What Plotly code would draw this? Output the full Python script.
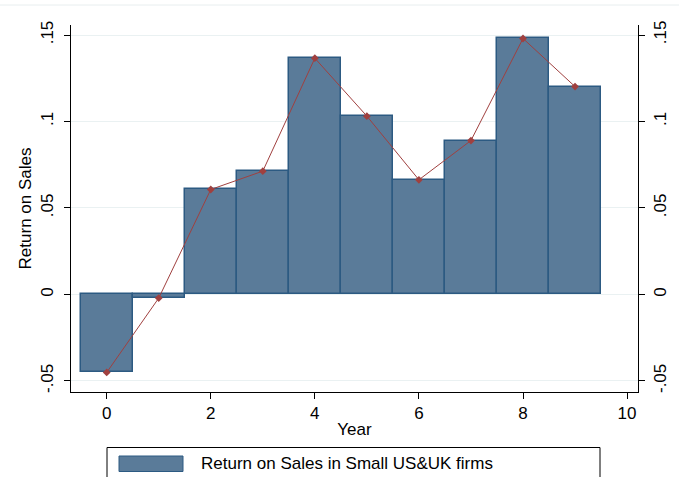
import plotly.graph_objects as go

years = [0, 1, 2, 3, 4, 5, 6, 7, 8, 9]
ros = [-0.0451, -0.0021, 0.0607, 0.0713, 0.1366, 0.1031, 0.0663, 0.0890, 0.1480, 0.1202]
y_ticks = [-0.05, 0, 0.05, 0.1, 0.15]
y_ticklabels = ["-.05", "0", ".05", ".1", ".15"]
x_ticks = [0, 2, 4, 6, 8, 10]
legend_label = "Return on Sales in Small US&UK firms"

FONT = "Liberation Sans, Arial, sans-serif"
BAR_FILL = "#5a7b99"
BAR_LINE = "#2c5a82"
LINE_COL = "#a0403f"
GRID = "#eaf1f2"
yr = [-0.0564, 0.1558]
xr = [-0.686, 10.21]
FS = 17

fig = go.Figure()
fig.add_trace(go.Bar(
    x=years, y=ros, width=1,
    marker=dict(color=BAR_FILL, line=dict(color=BAR_LINE, width=1.5)),
    name=legend_label, showlegend=False,
))
fig.add_trace(go.Scatter(
    x=years, y=ros, mode="lines+markers",
    line=dict(color=LINE_COL, width=1),
    marker=dict(symbol="diamond", size=6, color=LINE_COL),
    showlegend=False,
))
fig.add_trace(go.Scatter(x=[years[0]], y=[ros[0]], yaxis="y2", mode="markers",
                         marker=dict(opacity=0), showlegend=False, hoverinfo="skip"))

fig.update_layout(
    width=679, height=477,
    margin=dict(l=71, r=41, t=25, b=85, autoexpand=False),
    paper_bgcolor="white", plot_bgcolor="white",
    bargap=0,
    font=dict(family=FONT, size=FS, color="black"),
    xaxis=dict(
        range=xr, tickvals=x_ticks, showgrid=False, zeroline=False, automargin=False,
        showline=True, linecolor="black", linewidth=1,
        ticks="outside", ticklen=6, tickcolor="black",
        title=dict(text="Year", font=dict(size=FS), standoff=0),
    ),
    yaxis=dict(
        range=yr, tickvals=y_ticks, ticktext=y_ticklabels, tickangle=-90, automargin=False,
        showgrid=True, gridcolor=GRID, gridwidth=1, zeroline=False,
        showline=True, linecolor="black", linewidth=1,
        ticks="outside", ticklen=6, tickcolor="black", ticklabelstandoff=4,
        title=dict(text="Return on Sales", font=dict(size=FS), standoff=2),
    ),
    yaxis2=dict(
        range=yr, tickvals=y_ticks, ticktext=y_ticklabels, tickangle=-90, automargin=False,
        overlaying="y", side="right", showgrid=False, zeroline=False,
        showline=True, linecolor="black", linewidth=1,
        ticks="outside", ticklen=6, tickcolor="black", ticklabelstandoff=1,
    ),
    shapes=[
        dict(type="line", xref="paper", yref="paper", x0=-0.2, x1=1.2,
             y0=1.0 + 20 / 367, y1=1.0 + 20 / 367, line=dict(color="#e8eeef", width=1)),
        dict(type="rect", xref="paper", yref="paper",
             x0=(107 - 71) / 567, x1=(600 - 71) / 567,
             y0=-(477 - 392 + 5) / 367, y1=-(447.5 - 392) / 367,
             line=dict(color="black", width=1), fillcolor="white"),
        dict(type="rect", xref="paper", yref="paper",
             x0=(119 - 71) / 567, x1=(183 - 71) / 567,
             y0=-(471.5 - 392) / 367, y1=-(456 - 392) / 367,
             line=dict(color=BAR_LINE, width=1), fillcolor=BAR_FILL),
    ],
    annotations=[
        dict(text=legend_label, xref="paper", yref="paper",
             x=(199 - 71) / 567, y=-(463.5 - 392) / 367, xanchor="left", yanchor="middle",
             showarrow=False, font=dict(size=FS)),
    ],
)

fig.write_html("out.html", config={"displayModeBar": False},
               post_script="document.body.style.margin='0';document.body.style.overflow='hidden';")
